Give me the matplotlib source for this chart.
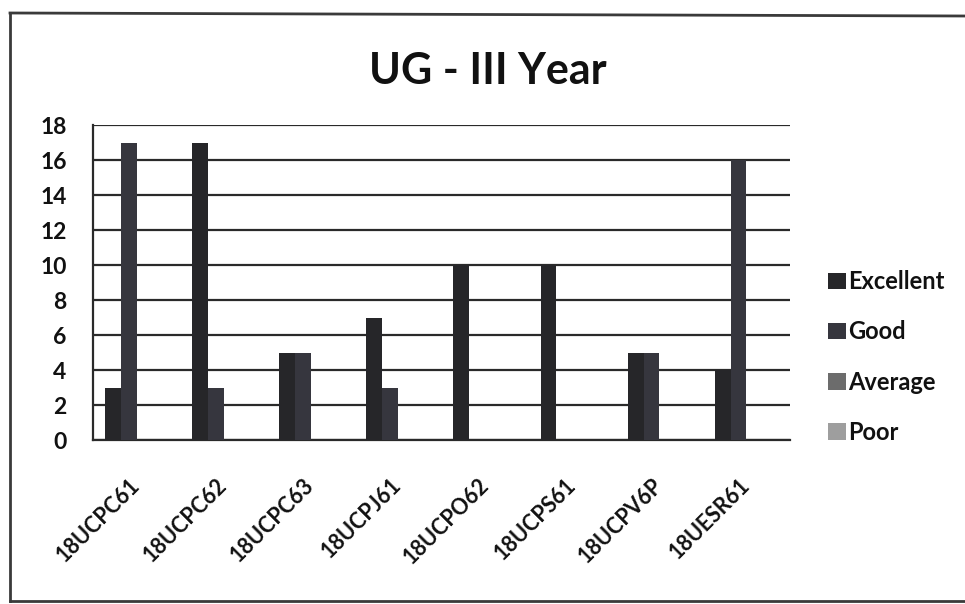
import numpy as np
import matplotlib.pyplot as plt
from matplotlib.lines import Line2D

plt.rcParams['font.family'] = ['Lato', 'DejaVu Sans']

# Course codes and the number of students in each feedback grade
courses = ["18UCPC61", "18UCPC62", "18UCPC63", "18UCPJ61",
           "18UCPO62", "18UCPS61", "18UCPV6P", "18UESR61"]
excellent = [3, 17, 5, 7, 10, 10, 5, 4]
good = [17, 3, 5, 3, 0, 0, 5, 16]
average = [0, 0, 0, 0, 0, 0, 0, 0]
poor = [0, 0, 0, 0, 0, 0, 0, 0]

series = [("Excellent", excellent, "#262629"),
          ("Good", good, "#36363e"),
          ("Average", average, "#6c6c6c"),
          ("Poor", poor, "#9e9e9e")]

fig = plt.figure(figsize=(9.65, 6.04), dpi=100)
ax = fig.add_axes([0.0964, 0.2715, 0.7223, 0.5215])

x = np.arange(len(courses))
width = 1 / 5.5
for j, (name, vals, color) in enumerate(series):
    ax.bar(x + (j - 1.5) * width, vals, width, color=color, label=name,
           linewidth=0, zorder=3)

ax.set_xlim(-0.5, len(courses) - 0.5)
ax.set_ylim(0, 18)
ax.set_yticks(range(0, 19, 2))
ax.yaxis.grid(True, color="#2a2a2a", linewidth=1.6, zorder=1)
ax.set_axisbelow(True)

for side in ["top", "right"]:
    ax.spines[side].set_visible(False)
ax.spines["left"].set_color("#2a2a2a")
ax.spines["left"].set_linewidth(1.6)
ax.spines["bottom"].set_color("#2a2a2a")
ax.spines["bottom"].set_linewidth(1.6)

ax.tick_params(axis="y", length=0, pad=19, labelsize=16.5)
ax.tick_params(axis="x", length=0, pad=30, labelsize=15.5)
ax.set_xticks(x)
ax.set_xticklabels(courses, rotation=45, ha="right", va="center",
                   rotation_mode="anchor")
for lab in ax.get_xticklabels() + ax.get_yticklabels():
    lab.set_fontweight("bold")
    lab.set_color("#111111")

fig.text(0.506, 0.882, "UG - III Year", ha="center", va="center",
         fontsize=31, fontweight="bold", color="#111111")

leg = ax.legend(loc="center left", bbox_to_anchor=(0.836, 0.409),
                bbox_transform=fig.transFigure, frameon=False,
                prop={"size": 17, "weight": "bold"}, labelspacing=1.15,
                handlelength=0.75, handleheight=0.7, handletextpad=0.12)
for t in leg.get_texts():
    t.set_color("#111111")

# chart-area border
border = dict(color="#3a3a3a", linewidth=2, transform=fig.transFigure)
fig.add_artist(Line2D([10 / 965, 10 / 965], [1 - 601 / 604, 1 - 13 / 604], **border))
fig.add_artist(Line2D([10 / 965, 1.0], [1 - 13 / 604, 1 - 16 / 604], **border))
fig.add_artist(Line2D([10 / 965, 1.0], [1 - 601 / 604, 1 - 601 / 604], **border))

fig.savefig("out.png", dpi=100)
